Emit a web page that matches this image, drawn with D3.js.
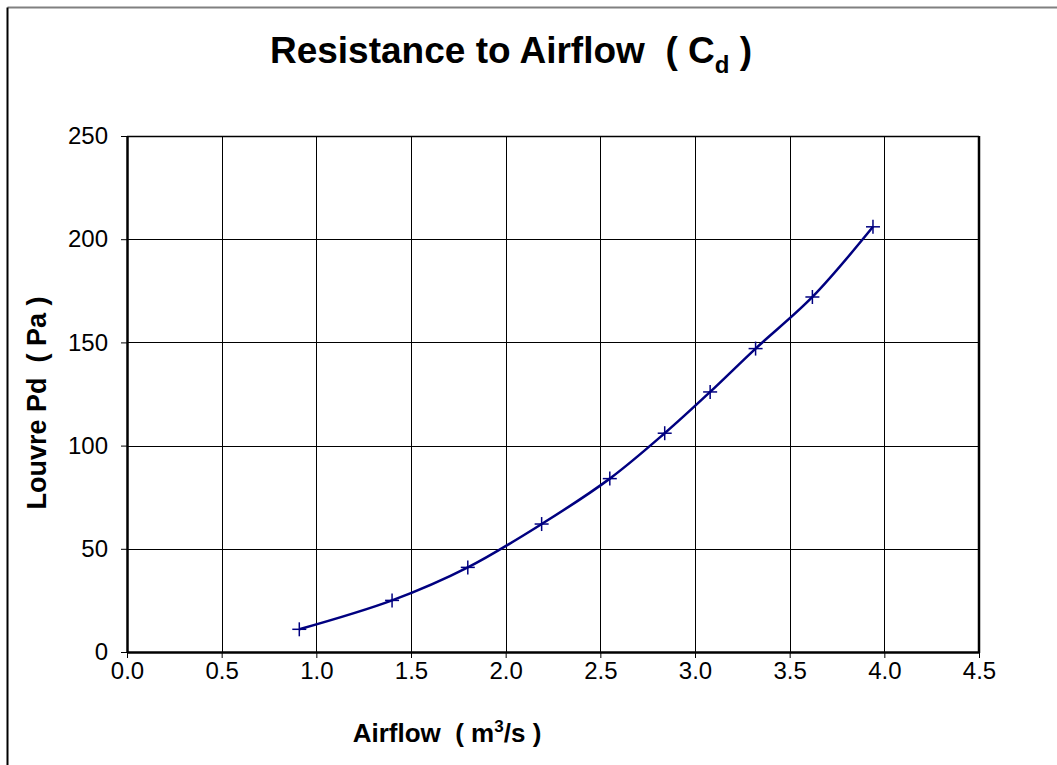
<!DOCTYPE html>
<html>
<head>
<meta charset="utf-8">
<script src="https://cdn.jsdelivr.net/npm/d3@7"></script>
<style>
  body { margin: 0; background: #fff; }
  svg { display: block; font-family: "Liberation Sans", Arial, sans-serif; }
  text { white-space: pre; }
</style>
</head>
<body>
<svg id="chart" width="1057" height="765"></svg>
<script>
// data
var airflow = [0.91, 1.40, 1.80, 2.19, 2.55, 2.84, 3.08, 3.32, 3.62, 3.94];
var pressure = [11, 25, 41, 62, 84, 106, 126, 147, 172, 206];
var xTicks = [0, 0.5, 1.0, 1.5, 2.0, 2.5, 3.0, 3.5, 4.0, 4.5];
var yTicks = [0, 50, 100, 150, 200, 250];

var svg = d3.select("#chart");

// outer chart border (only top and left show in the frame)
svg.append("line").attr("x1", 7.5).attr("y1", 7.5).attr("x2", 1057).attr("y2", 7.5)
    .attr("stroke", "#808080").attr("stroke-width", 2);
svg.append("line").attr("x1", 7.5).attr("y1", 7.5).attr("x2", 7.5).attr("y2", 765)
    .attr("stroke", "#000").attr("stroke-width", 2);

var plotL = 127, plotR = 979, plotT = 136, plotB = 652;

var x = d3.scaleLinear().domain([0, 4.5]).range([plotL, plotR]);
var y = d3.scaleLinear().domain([0, 250]).range([plotB, plotT]);

// grid
svg.append("g").selectAll("line").data(xTicks.slice(1, -1)).enter().append("line")
    .attr("x1", function (d) { return Math.round(x(d)) + 0.5; })
    .attr("x2", function (d) { return Math.round(x(d)) + 0.5; })
    .attr("y1", plotT).attr("y2", plotB)
    .attr("stroke", "#000").attr("stroke-width", 1);
svg.append("g").selectAll("line").data(yTicks.slice(1)).enter().append("line")
    .attr("y1", function (d) { return Math.round(y(d)) + 0.5; })
    .attr("y2", function (d) { return Math.round(y(d)) + 0.5; })
    .attr("x1", plotL).attr("x2", plotR)
    .attr("stroke", "#000").attr("stroke-width", 1);

// axes
var xAxis = d3.axisBottom(x).tickValues(xTicks).tickFormat(d3.format(".1f"))
    .tickSizeInner(6).tickSizeOuter(0).tickPadding(4);
var gx = svg.append("g").attr("transform", "translate(0," + plotB + ")").call(xAxis);
gx.select(".domain").attr("stroke-width", 2.5);
gx.selectAll("text").attr("font-size", 24).attr("fill", "#000")
    .attr("font-family", "Liberation Sans, Arial, sans-serif");

var yAxis = d3.axisLeft(y).tickValues(yTicks).tickFormat(d3.format("d"))
    .tickSizeInner(6).tickSizeOuter(0).tickPadding(13);
var gy = svg.append("g").attr("transform", "translate(" + plotL + ",0)").call(yAxis);
gy.select(".domain").attr("stroke-width", 2.5);
gy.selectAll("text").attr("font-size", 24).attr("fill", "#000")
    .attr("font-family", "Liberation Sans, Arial, sans-serif");

// right and top frame edges
svg.append("line").attr("x1", plotR).attr("x2", plotR).attr("y1", plotT).attr("y2", plotB + 1)
    .attr("stroke", "#000").attr("stroke-width", 2.5);
svg.append("line").attr("x1", plotL).attr("x2", plotR).attr("y1", plotT + 0.5).attr("y2", plotT + 0.5)
    .attr("stroke", "#000").attr("stroke-width", 1.5);

// smoothed line
var pts = airflow.map(function (d, i) { return [d, pressure[i]]; });
var line = d3.line()
    .x(function (d) { return x(d[0]); })
    .y(function (d) { return y(d[1]); })
    .curve(d3.curveCatmullRom.alpha(0.5));
svg.append("path").datum(pts).attr("d", line)
    .attr("fill", "none").attr("stroke", "#000080").attr("stroke-width", 2.5);

// plus markers
var marks = svg.append("g").selectAll("g").data(pts).enter().append("g")
    .attr("transform", function (d) { return "translate(" + x(d[0]) + "," + y(d[1]) + ")"; });
marks.append("line").attr("x1", -7).attr("x2", 7).attr("y1", 0).attr("y2", 0)
    .attr("stroke", "#000080").attr("stroke-width", 1.5);
marks.append("line").attr("y1", -7).attr("y2", 7).attr("x1", 0).attr("x2", 0)
    .attr("stroke", "#000080").attr("stroke-width", 1.5);

// title
var title = svg.append("text").attr("x", 511).attr("y", 63).attr("text-anchor", "middle")
    .attr("font-size", 37).attr("font-weight", "bold");
title.append("tspan").text("Resistance to Airflow  ( C");
title.append("tspan").attr("font-size", 24).attr("dy", 10).text("d");
title.append("tspan").attr("dy", -10).text(" )");

// x axis title
var xt = svg.append("text").attr("x", 447).attr("y", 742).attr("text-anchor", "middle")
    .attr("font-size", 26).attr("font-weight", "bold");
xt.append("tspan").text("Airflow  ( m");
xt.append("tspan").attr("font-size", 17).attr("dy", -10).text("3");
xt.append("tspan").attr("dy", 10).text("/s )");

// y axis title
svg.append("text").attr("transform", "translate(46,403) rotate(-90)")
    .attr("text-anchor", "middle").attr("font-size", 27).attr("font-weight", "bold")
    .text("Louvre Pd  ( Pa )");
</script>
</body>
</html>
